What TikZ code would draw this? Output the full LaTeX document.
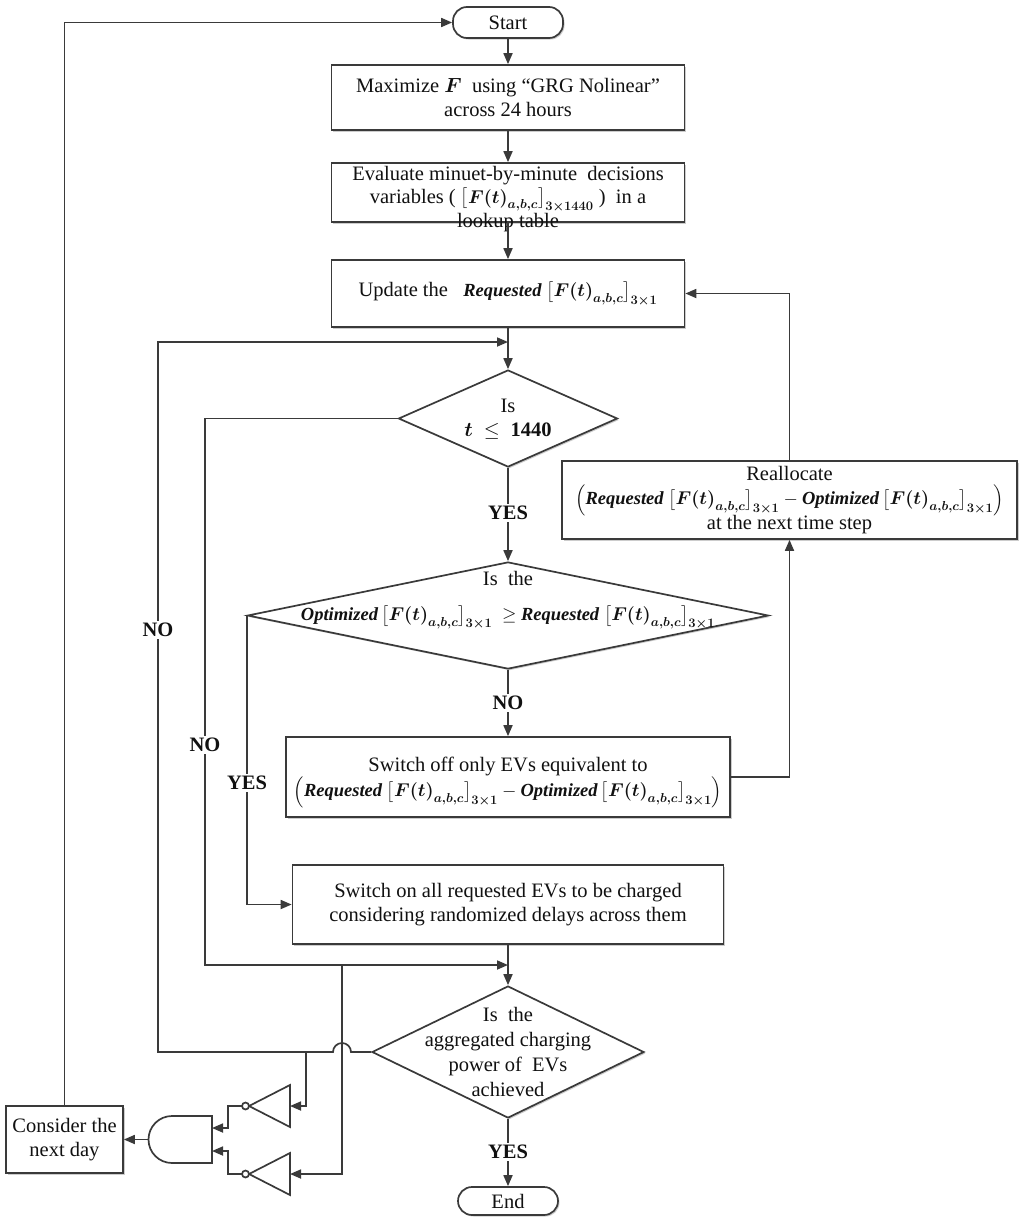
\RequirePackage{fix-cm}
\documentclass[tikz,border=0pt]{standalone}
\usepackage{amsmath,bm}
\usepackage{fontspec}
\setmainfont{Liberation Serif}
\usetikzlibrary{arrows.meta,shapes.geometric,shadows}
\definecolor{lc}{HTML}{3A3A3A}
\definecolor{tc}{HTML}{111111}
\newcommand{\FF}[1]{\boldsymbol{\bigl[F(t)_{a,b,c}\bigr]_{3\times #1}}}
\newcommand{\Req}{\textbf{\textit{Requested}}}
\newcommand{\Opt}{\textbf{\textit{Optimized}}}
\newcommand{\fm}{\fontsize{18.5}{22}\selectfont}
\begin{document}
\begin{tikzpicture}[x=1pt,y=-1pt,
  every node/.style={font=\fontsize{20.5}{24.5}\selectfont, text=tc},
  ln/.style={draw=lc, line width=1.7pt},
  arr/.style={ln, -{Triangle[length=11pt,width=9pt]}},
  shad/.style={drop shadow={shadow xshift=1.5pt,shadow yshift=-1.5pt,fill=black!20,opacity=1}},
  box/.style={rectangle, ln, fill=white, shad, inner sep=0pt, align=center},
  term/.style={box, rounded corners=14pt},
  dia/.style={diamond, ln, fill=white, shad, inner sep=0pt},
  txt/.style={align=center, inner sep=0pt},
  lab/.style={fill=white, inner sep=2pt, font=\fontsize{20.5}{24}\selectfont\bfseries},
  gate/.style={ln, fill=white}
]
\useasboundingbox (0,0) rectangle (1024,1221);
\fill[white] (0,0) rectangle (1024,1221);

% nodes
\node[term, minimum width=110, minimum height=31] (start) at (508,22.5) {Start};
\node[box, minimum width=353, minimum height=65] (b1) at (508,97.5) {Maximize $\boldsymbol{F}$\ \ using “GRG Nolinear”\\across 24 hours};
\node[box, minimum width=353, minimum height=59] (b2) at (508,192.5) {};
\node[txt, font=\fontsize{20.5}{22.5}\selectfont] (b2t) at (508,199) {Evaluate minuet-by-minute\ \ decisions\\variables ( {\fm$\FF{1440}$} )\ \ in a\\lookup table};
\node[box, minimum width=353, minimum height=67] (b3) at (508,293.5) {Update the\ \ \ {\fm\Req\ $\FF{1}$}};

\node[dia, minimum width=219, minimum height=97] (d1) at (508,418.5) {};
\node[txt] (d1t) at (508,418) {Is\\\smash{$\boldsymbol{t}\ \le\ \mathbf{1440}$}};

\node[box, minimum width=455, minimum height=78] (re) at (789.5,500) {Reallocate\\\smash{\fm$\Bigl($\Req\ $\FF{1}-{}$\Opt\,$\FF{1}\Bigr)$}\\at the next time step};

\node[dia, minimum width=521, minimum height=107] (d2) at (508,615.5) {};
\node[txt] (d2t) at (508,596) {Is\ \ the\\[11pt]\smash{\fm\Opt\,$\FF{1}\ \ge$\ \Req\ $\FF{1}$}};

\node[box, minimum width=444, minimum height=80] (soff) at (508,777) {Switch off only EVs equivalent to\\[1pt]\smash{\fm$\Bigl($\Req\ $\FF{1}-{}$\Opt\,$\FF{1}\Bigr)$}};

\node[box, minimum width=431, minimum height=79] (son) at (508,904.5) {Switch on all requested EVs to be charged\\considering randomized delays across them};

\node[dia, minimum width=272, minimum height=132] (d3) at (508,1052) {};
\node[txt, font=\fontsize{20.5}{25}\selectfont] (d3t) at (508,1052) {Is\ \ the\\aggregated charging\\power of\ \ EVs\\achieved};

\node[term, minimum width=100, minimum height=28] (endn) at (508,1201) {End};

\node[box, minimum width=117, minimum height=67] (cons) at (64.5,1139.5) {Consider the\\next day};

% coordinates
\coordinate (j1) at (508,965);
\coordinate (j2) at (508,342);
\coordinate (c205) at (205,965);
\coordinate (c158) at (158,1052);
\coordinate (br) at (342,1052);
\coordinate (j3) at (342,965);
\coordinate (j4) at (306,1052);
\coordinate (inv1in) at (290,1106);
\coordinate (inv1out) at (242,1106);
\coordinate (inv2in) at (290,1174);
\coordinate (inv2out) at (242,1174);
\coordinate (and1in) at (212,1128);
\coordinate (and2in) at (212,1151);
\coordinate (andout) at (148.5,1139.5);

% gates
\draw[gate] (290,1085) -- (290,1127) -- (249,1106) -- cycle;
\draw[gate] (245.5,1106) circle[radius=3.5pt];
\draw[gate] (290,1153) -- (290,1195) -- (249,1174) -- cycle;
\draw[gate] (245.5,1174) circle[radius=3.5pt];
\draw[gate] (212,1116) -- (172,1116) arc[start angle=90, end angle=270, radius=23.5pt] -- (212,1163) -- cycle;

% connectors
\draw[arr] (cons.north) |- (start.west);
\draw[arr] (start.south) -- (b1.north);
\draw[arr] (b1.south) -- (b2.north);
\draw[arr] (b2.south) -- (b3.north);
\draw[arr] (b3.south) -- (d1.north);
\draw[arr] (d1.south) -- node[lab, pos=0.48] (yes1) {YES} (d2.north);
\draw[arr] (d2.south) -- node[lab, pos=0.5] (no1) {NO} (soff.north);
\draw[arr] (soff.east) -| (re.south);
\draw[arr] (re.north) |- (b3.east);
\draw[arr] (d2.west) |- (son.west);
\draw[arr] (son.south) -- (d3.north);
\draw[arr] (d3.south) -- node[lab, pos=0.49] (yes3) {YES} (endn.north);
\draw[arr] (d1.west) -| (c205) -- (j1);
\draw[arr] (d3.west) -- ([xshift=9pt]br) arc[start angle=0, end angle=180, radius=9pt] -- (c158) |- (j2);
\draw[arr] (j3) |- (inv2in);
\draw[arr] (j4) |- (inv1in);
\draw[arr] (inv1out) -- (228,1106) |- (and1in);
\draw[arr] (inv2out) -- (228,1174) |- (and2in);
\draw[arr] (andout) -- (cons.east);

% side labels
\node[lab] (no2) at (158,630) {NO};
\node[lab] (no3) at (205,745) {NO};
\node[lab] (yes2) at (247,783) {YES};
\end{tikzpicture}
\end{document}
